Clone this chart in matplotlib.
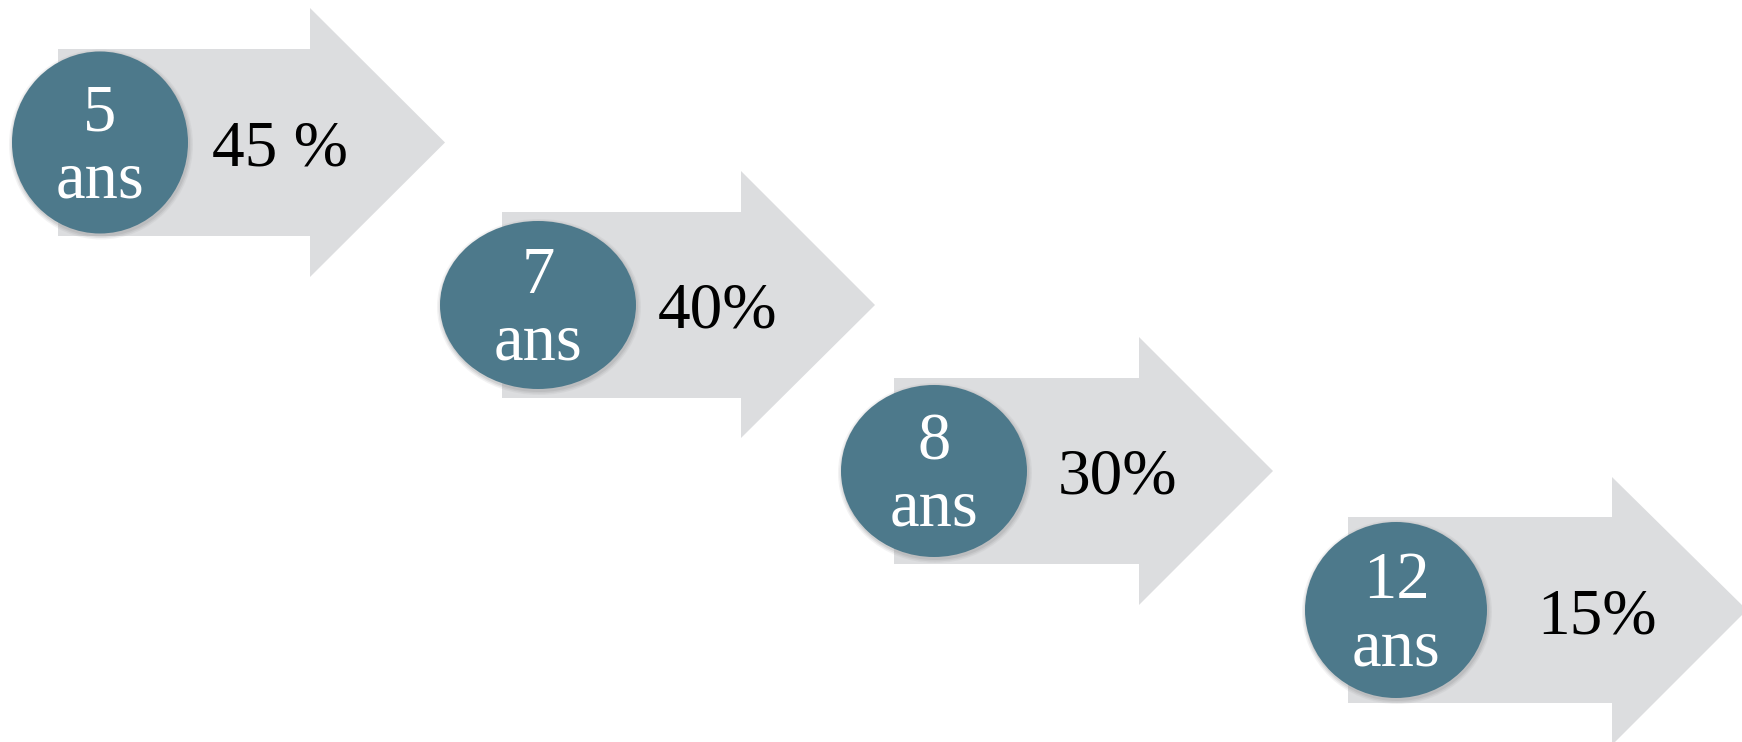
import matplotlib.pyplot as plt
from matplotlib.patches import Polygon, Ellipse

# Data
years = ["5", "7", "8", "12"]
unit = "ans"
shares = ["45 %", "40%", "30%", "15%"]

# Layout (pixel coordinates, y down)
body_left = [58, 502, 894, 1348]
body_top = [49, 212, 378, 517]
body_bottom = [236, 398, 564, 703]
head_x = [310, 741, 1139, 1612]
head_top = [8, 171, 337, 477]
head_bottom = [277, 438, 605, 745]
tip_x = [445, 875, 1273, 1747]

circ_x = [100, 538, 934, 1396]
circ_rx = [88, 98, 93, 91]
circ_ry = [91, 84, 86, 88]
text_x = [212, 658, 1058, 1537]

W, H = 1742, 742
fig = plt.figure(figsize=(W / 100, H / 100), dpi=100)
ax = fig.add_axes([0, 0, 1, 1])
ax.set_xlim(0, W)
ax.set_ylim(H, 0)
ax.axis("off")

grey = "#dcdddf"
teal = "#4d798b"
serif = ["Liberation Serif", "DejaVu Serif"]

for i in range(len(years)):
    mid = (body_top[i] + body_bottom[i]) / 2
    pts = [(body_left[i], body_top[i]), (head_x[i], body_top[i]),
           (head_x[i], head_top[i]), (tip_x[i], mid),
           (head_x[i], head_bottom[i]), (head_x[i], body_bottom[i]),
           (body_left[i], body_bottom[i])]
    ax.add_patch(Polygon(pts, closed=True, facecolor=grey, edgecolor="none", zorder=1))

    # soft shadow then the circle
    for k, a in [(8, 0.12), (5, 0.18), (2, 0.25)]:
        ax.add_patch(Ellipse((circ_x[i] + 1, mid + 2), 2 * circ_rx[i] + k, 2 * circ_ry[i] + k,
                             facecolor="#9a9b9d", edgecolor="none", alpha=a, zorder=2))
    ax.add_patch(Ellipse((circ_x[i], mid), 2 * circ_rx[i], 2 * circ_ry[i],
                         facecolor=teal, edgecolor="none", zorder=3))

    ax.text(circ_x[i], mid - 12, years[i], color="white", fontsize=48,
            family=serif, ha="center", va="baseline", zorder=4)
    ax.text(circ_x[i], mid + 55, unit, color="white", fontsize=48,
            family=serif, ha="center", va="baseline", zorder=4)
    ax.text(text_x[i], mid + 23, shares[i], color="black", fontsize=47,
            family=serif, ha="left", va="baseline", zorder=4)

fig.savefig("out.png", dpi=100, facecolor="white")
